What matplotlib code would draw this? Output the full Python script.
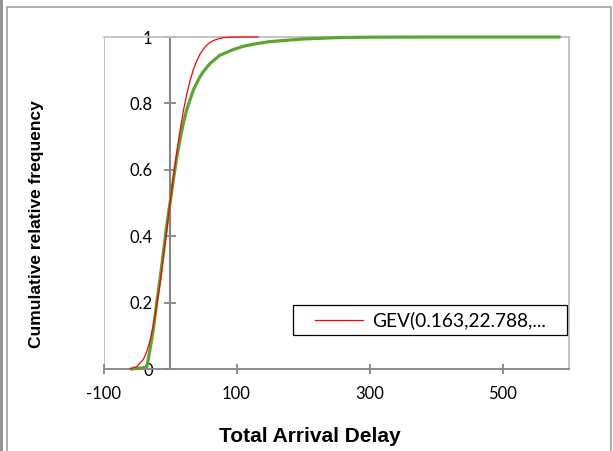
import matplotlib.pyplot as plt
from matplotlib.lines import Line2D
from matplotlib.patches import Rectangle

# observed cumulative relative frequency (green)
delay_obs = [-57, -35, -30, -25, -20, -15, -10, -5, 0, 5, 10, 15, 20, 25, 30, 35, 40,
             45, 50, 60, 75, 95, 110, 130, 150, 180, 200, 250, 300, 400, 585]
freq_obs = [0.0, 0.005, 0.06, 0.12, 0.2, 0.27, 0.35, 0.43, 0.5, 0.57, 0.635, 0.69, 0.74,
            0.78, 0.81, 0.84, 0.86, 0.88, 0.895, 0.92, 0.945, 0.962, 0.972, 0.98, 0.986,
            0.991, 0.994, 0.998, 0.9995, 1.0, 1.0]

# fitted GEV curve (red)
delay_fit = [-60, -50, -40, -35, -30, -25, -20, -15, -10, -5, 0, 5, 10, 15, 20, 25, 30,
             35, 40, 45, 50, 55, 60, 65, 70, 80, 90, 100, 132]
freq_fit = [0.001, 0.007, 0.029, 0.052, 0.086, 0.132, 0.191, 0.259, 0.336, 0.417, 0.498,
            0.577, 0.651, 0.717, 0.776, 0.826, 0.867, 0.901, 0.927, 0.948, 0.963, 0.975,
            0.983, 0.989, 0.993, 0.998, 0.9994, 0.9999, 1.0]

x_ticks = [-100, 100, 300, 500]
y_ticks = [0, 0.2, 0.4, 0.6, 0.8, 1]
y_tick_labels = ['0', '0.2', '0.4', '0.6', '0.8', '1']
legend_label = 'GEV(0.163,22.788,...'

W, H = 613, 451
fig = plt.figure(figsize=(W / 100, H / 100), dpi=100)
ax = fig.add_axes([103.5 / W, 1 - 369 / H, (569 - 103.5) / W, (369 - 37) / H])

ax.plot(delay_obs, freq_obs, color='#5BA532', lw=2.3, clip_on=False, zorder=3)
ax.plot(delay_fit, freq_fit, color='#FF0000', lw=0.9, clip_on=False, zorder=4)

ax.set_xlim(-100, 600)
ax.set_ylim(0, 1)

axis_grey = '#868686'
border_grey = '#BFBFBF'
ax.spines['left'].set_position(('data', 0))
ax.spines['left'].set_color(axis_grey)
ax.spines['left'].set_linewidth(1.5)
ax.spines['bottom'].set_color(axis_grey)
ax.spines['bottom'].set_linewidth(1.3)
for s in ['top', 'right']:
    ax.spines[s].set_color(border_grey)
    ax.spines[s].set_linewidth(1.3)
ax.axvline(-100, color=border_grey, lw=1.3, zorder=1)

tick_font = {'family': 'Lato', 'size': 12}
ax.set_xticks(x_ticks)
ax.set_xticklabels([str(t) for t in x_ticks], fontdict=tick_font)
ax.set_yticks(y_ticks)
ax.set_yticklabels(y_tick_labels, fontdict=tick_font)
ax.tick_params(axis='y', direction='inout', length=9, width=1.3, color=axis_grey, pad=8)
ax.tick_params(axis='x', direction='inout', length=7, width=1.3, color=axis_grey, pad=9)

fig.text(310 / W, 1 - 437 / H, 'Total Arrival Delay', ha='center', va='center',
         family='Liberation Sans', weight='bold', fontsize=15)
fig.text(37 / W, 1 - 224 / H, 'Cumulative relative frequency', ha='center', va='center',
         rotation=90, family='Liberation Sans', weight='bold', fontsize=12.5)

# legend box
fig.add_artist(Rectangle((293 / W, 1 - 335 / H), (567 - 293) / W, 30 / H,
                         transform=fig.transFigure, facecolor='white', edgecolor='black',
                         lw=0.9, zorder=5))
fig.add_artist(Line2D([315 / W, 363 / W], [1 - 320 / H, 1 - 320 / H],
                      transform=fig.transFigure, color='#FF0000', lw=0.9, zorder=6))
fig.text(372 / W, 1 - 320 / H, legend_label, ha='left', va='center',
         family='Lato', fontsize=13.8, zorder=6)

# chart frame
frame = '#A0A0A0'
fig.add_artist(Line2D([7 / W, 7 / W, 611 / W, 611 / W], [0, 1 - 7 / H, 1 - 7 / H, 0],
                      transform=fig.transFigure, color=frame, lw=1.2))
fig.add_artist(Line2D([1.5 / W, 1.5 / W], [0, 1], transform=fig.transFigure,
                      color='#8C8C8C', lw=2))

fig.savefig('out.png', dpi=100)
